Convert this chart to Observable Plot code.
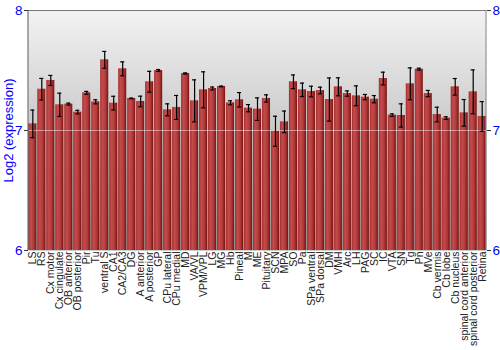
<!DOCTYPE html>
<html>
<head>
<meta charset="utf-8">
<script src="https://cdn.jsdelivr.net/npm/d3@7"></script>
<script src="https://cdn.jsdelivr.net/npm/@observablehq/plot@0.6"></script>
<style>
  html, body { margin: 0; padding: 0; background: #fff; }
  #chart { width: 500px; height: 350px; }
</style>
</head>
<body>
<div id="chart"></div>
<script>
const regions = ["LS","RS","Cx motor","Cx cingulate","OB anterior","OB posterior","Pir","Tu","ventral S","CA1","CA2/CA3","DG","A anterior","A posterior","GP","CPu lateral","CPu medial","MD","VA/VL","VPM/VPL","LG","MG","Hb","Pineal","M","ME","Pituitary","SCN","MPA","SO","Pa","SPa ventral","SPa dorsal","DM","VMH","Arc","LH","PAG","SC","IC","VTA","SN","Tg","Pn","MVe","Cb vermis","Cb lobe","Cb nucleus","spinal cord anterior","spinal cord posterior","Retina"];
const means = [7.055,7.344,7.417,7.214,7.22,7.153,7.314,7.239,7.589,7.228,7.514,7.267,7.242,7.406,7.5,7.172,7.192,7.475,7.247,7.339,7.35,7.367,7.231,7.256,7.186,7.178,7.267,6.994,7.072,7.406,7.339,7.325,7.333,7.258,7.364,7.308,7.289,7.278,7.261,7.433,7.128,7.125,7.389,7.511,7.308,7.133,7.103,7.364,7.147,7.322,7.117];
const errors = [0.115,0.09,0.042,0.097,0.008,0.015,0.012,0.017,0.07,0.057,0.058,0.003,0.044,0.087,0.008,0.05,0.1,0.005,0.175,0.15,0.012,0.003,0.017,0.06,0.03,0.094,0.03,0.125,0.09,0.057,0.056,0.044,0.028,0.18,0.075,0.022,0.083,0.022,0.03,0.053,0.01,0.097,0.133,0.008,0.026,0.061,0.011,0.069,0.111,0.183,0.124];
const yTicks = [6, 7, 8];
const yLabel = "Log2 (expression)";

const data = regions.map((r, i) => ({region: r, mean: means[i], lo: means[i] - errors[i], hi: means[i] + errors[i]}));

const chart = Plot.plot({
  width: 500,
  height: 350,
  marginLeft: 28,
  marginRight: 14,
  marginTop: 10,
  marginBottom: 100,
  style: {fontFamily: "Liberation Sans, Arial, sans-serif", fontSize: "10.5px", background: "#fff", overflow: "visible"},
  x: {domain: regions, paddingInner: 0.1, paddingOuter: 0.03, tickRotate: -90, tickSize: 0, tickPadding: 1, label: null},
  y: {domain: [6, 8], ticks: yTicks, tickFormat: d => String(d), axis: "both", tickSize: 4, tickPadding: 2, label: null},
  marks: [
    Plot.frame({fill: "url(#bgGrad)", stroke: null}),
    Plot.barY(data, {x: "region", y1: 6, y2: "mean", fill: "url(#barGrad)"}),
    Plot.ruleY([7], {stroke: "#fff", strokeOpacity: 0.45}),
    Plot.ruleX(data, {x: "region", y1: "lo", y2: "hi", stroke: "#000", strokeWidth: 1.2}),
    Plot.tickY(data, {x: "region", y: "lo", stroke: "#000", strokeWidth: 1.2, insetLeft: 2, insetRight: 2}),
    Plot.tickY(data, {x: "region", y: "hi", stroke: "#000", strokeWidth: 1.2, insetLeft: 2, insetRight: 2}),
    Plot.ruleY([8], {stroke: "#777"}),
    Plot.text([yLabel], {frameAnchor: "left", dx: -20, rotate: -90, textAnchor: "middle", fill: "blue", fontSize: 13})
  ]
});

// add gradient defs
const ns = "http://www.w3.org/2000/svg";
const svg = chart.tagName.toLowerCase() === "svg" ? chart : chart.querySelector("svg");
const defs = document.createElementNS(ns, "defs");
defs.innerHTML = `
  <linearGradient id="bgGrad" x1="0" y1="0" x2="0" y2="1">
    <stop offset="0" stop-color="#f3f3f3"/>
    <stop offset="0.5" stop-color="#c9c9c9"/>
    <stop offset="1" stop-color="#9a9a9a"/>
  </linearGradient>
  <linearGradient id="barGrad" x1="0" y1="0" x2="1" y2="0">
    <stop offset="0" stop-color="#a53030"/>
    <stop offset="0.3" stop-color="#c44b4b"/>
    <stop offset="0.65" stop-color="#b33a3a"/>
    <stop offset="1" stop-color="#761212"/>
  </linearGradient>`;
svg.insertBefore(defs, svg.firstChild);

// blue y tick labels, axis lines
svg.querySelectorAll('g[aria-label="y-axis"], g[aria-label="y-axis tick label"]').forEach(g => {
  g.setAttribute("fill", "blue");
  g.setAttribute("font-size", "13.5");
  g.querySelectorAll("text").forEach(t => { t.setAttribute("fill", "blue"); t.setAttribute("font-size", "13.5"); });
});
svg.querySelectorAll('g[aria-label="y-axis tick"]').forEach(g => g.setAttribute("stroke", "#333"));
svg.querySelectorAll('g[aria-label="x-axis"] text, g[aria-label="x-axis tick label"] text').forEach(t => t.setAttribute("fill", "#222"));

// vertical side lines of the plot area
const xs = [28, 486];
xs.forEach((x, i) => {
  const l = document.createElementNS(ns, "line");
  l.setAttribute("x1", x); l.setAttribute("x2", x);
  l.setAttribute("y1", 10); l.setAttribute("y2", 250);
  l.setAttribute("stroke", i === 0 ? "#555" : "#888");
  svg.appendChild(l);
});

document.getElementById("chart").appendChild(chart);
</script>
</body>
</html>
